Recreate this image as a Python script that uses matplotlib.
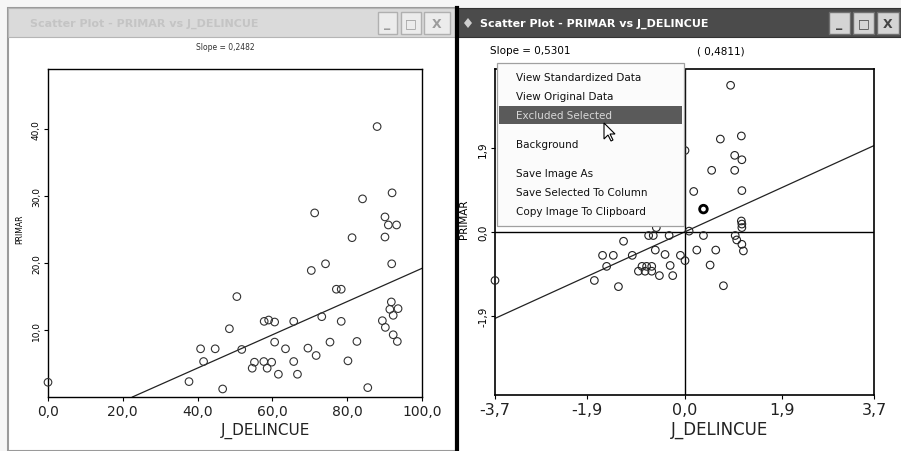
"""Duas janelas de dispersão: PRIMAR vs J_DELINCUE (original e padronizado)."""
import matplotlib
matplotlib.use("Agg")
import matplotlib.pyplot as plt
from matplotlib.patches import Rectangle, Polygon

W, H = 901, 452

# --- dados da janela esquerda (escala original) ---
delinq = [0.0, 37.7, 46.7, 85.5, 40.8, 44.7, 41.6, 48.5, 50.5, 51.8,
          57.8, 59.0, 60.6, 60.6, 54.6, 55.2, 57.7, 58.6, 59.8, 61.6,
          63.5, 65.7, 66.7, 65.7, 69.5, 71.7, 70.4, 74.2, 73.2, 75.4,
          77.1, 78.4, 78.4, 80.2, 82.6, 81.3, 90.1, 91.9, 91.8, 91.4,
          93.6, 92.3, 89.4, 90.2, 92.3, 93.4, 88.0, 84.1, 92.0, 71.3,
          90.1, 91.0, 93.2]
primar = [2.2, 2.3, 1.2, 1.4, 7.2, 7.2, 5.3, 10.2, 15.0, 7.1,
          11.3, 11.5, 11.2, 8.2, 4.3, 5.2, 5.3, 4.3, 5.2, 3.4,
          7.2, 5.3, 3.4, 11.3, 7.3, 6.2, 18.9, 19.9, 12.0, 8.2,
          16.1, 16.1, 11.3, 5.4, 8.3, 23.8, 23.9, 19.9, 14.2, 13.1,
          13.2, 12.2, 11.4, 10.4, 9.3, 8.3, 40.4, 29.6, 30.5, 27.5,
          26.9, 25.7, 25.7]
slope_orig = 0.2482
intercept_orig = -5.6

# --- dados da janela direita (padronizados) ---
delinq_std = [-3.70, -1.76, -1.29, -1.52, -1.60, -1.39, -1.02, -1.19, -0.70, -0.61,
              -0.30, -0.57, -0.38, -0.83, -0.74, -0.64, -0.90, -0.77, -0.64, -0.49,
              -0.28, -0.23, -0.08, 0.01, 0.37, 0.24, 0.61, 0.50, 0.76, 0.99,
              1.02, 1.12, 1.15, 1.11, 1.12, 0.09, 0.90, 0.70, 1.11, 0.98,
              1.12, 0.53, 0.98, 0.01, 0.18, 1.12, 1.12, -0.55]
primar_std = [-1.10, -1.10, -1.24, -0.78, -0.53, -0.53, -0.53, -0.21, -0.08, -0.08,
              -0.08, -0.41, -0.51, -0.78, -0.78, -0.78, -0.89, -0.89, -0.89, -0.99,
              -0.76, -0.99, -0.53, -0.65, -0.08, -0.41, -0.41, -0.75, -1.22, -0.08,
              -0.18, -0.28, -0.43, 0.25, 0.10, 0.02, 3.33, 2.11, 2.18, 1.74,
              1.64, 1.40, 1.40, 1.85, 0.92, 0.94, 0.18, 0.10]
sel_x = [0.37]
sel_y = [0.52]
slope_std = 0.5301

left_xticks = [0, 20, 40, 60, 80, 100]
left_xlabels = ["0,0", "20,0", "40,0", "60,0", "80,0", "100,0"]
left_yticks = [10, 20, 30, 40]
left_ylabels = ["10,0", "20,0", "30,0", "40,0"]
right_xticks = [-3.7, -1.9, 0.0, 1.9, 3.7]
right_xlabels = ["-3,7", "-1,9", "0,0", "1,9", "3,7"]
right_yticks = [-1.9, 0.0, 1.9]
right_ylabels = ["-1,9", "0,0", "1,9"]

menu_items = ["View Standardized Data", "View Original Data", "Excluded Selected",
              "Background", "Save Image As", "Save Selected To Column",
              "Copy Image To Clipboard"]
menu_y = [78, 97, 116, 145, 174, 193, 212]
menu_hl = 2

title = "Scatter Plot - PRIMAR vs J_DELINCUE"


def px_axes(fig, x0, y0, x1, y1, z):
    return fig.add_axes([x0 / W, 1 - y1 / H, (x1 - x0) / W, (y1 - y0) / H], zorder=z)


def rect(ax, x0, y0, x1, y1, **kw):
    ax.add_patch(Rectangle((x0, y0), x1 - x0, y1 - y0, **kw))


fig = plt.figure(figsize=(W / 100, H / 100), dpi=100, facecolor="#f6f6f6")

# fundo: molduras das janelas
bg = px_axes(fig, 0, 0, W, H, 0)
bg.set_xlim(0, W)
bg.set_ylim(H, 0)
bg.axis("off")

rect(bg, 8, 9, 456, 452, facecolor="white", edgecolor="#9a9a9a", lw=1.5)
rect(bg, 8, 9, 456, 38, facecolor="#dadada", edgecolor="#b5b5b5", lw=0.8)
bg.text(30, 24, title, color="#c4c4c4", fontsize=8, fontweight="bold", va="center")
for x0, x1, sym in [(378, 397, "_"), (401, 421, "□"), (424, 450, "X")]:
    rect(bg, x0, 13, x1, 35, facecolor="#ececec", edgecolor="#b0b0b0", lw=1)
    bg.text((x0 + x1) / 2, 24, sym, color="#9c9c9c", fontsize=9, fontweight="bold",
            ha="center", va="center")
bg.text(225, 48, "Slope = 0,2482", fontsize=5.5, color="#333333", ha="center", va="center")
bg.text(20, 229, "PRIMAR", fontsize=5.5, rotation=90, ha="center", va="center")
bg.text(265, 431, "J_DELINCUE", fontsize=11, ha="center", va="center", color="#222222")

rect(bg, 455, 9, 901, 452, facecolor="white", edgecolor="none")
rect(bg, 455, 9, 901, 38, facecolor="#4b4b4b", edgecolor="#333333", lw=0.8)
bg.plot([457, 457], [9, 452], color="black", lw=3)
bg.add_patch(Polygon([(468, 19), (472, 24), (468, 29), (464, 24)], closed=True,
                     facecolor="#cfcfcf", edgecolor="none"))
bg.text(480, 24, title, color="white", fontsize=8, fontweight="bold", va="center")
for x0, x1, sym in [(829, 850, "_"), (853, 874, "□"), (877, 899, "X")]:
    rect(bg, x0, 13, x1, 35, facecolor="#d4d4d4", edgecolor="#707070", lw=1)
    bg.text((x0 + x1) / 2, 24, sym, color="#444444", fontsize=9, fontweight="bold",
            ha="center", va="center")
bg.text(490, 51, "Slope = 0,5301", fontsize=7.5, ha="left", va="center")
bg.text(697, 51, "( 0,4811)", fontsize=7.5, ha="left", va="center")
bg.text(464, 219, "PRIMAR", fontsize=7.5, rotation=90, ha="center", va="center")
bg.text(720, 430, "J_DELINCUE", fontsize=12, ha="center", va="center", color="#222222")

# gráfico esquerdo
ax1 = px_axes(fig, 48, 70, 422, 398, 5)
ax1.scatter(delinq, primar, s=30, facecolors="none", edgecolors="#333333",
            linewidths=0.8, clip_on=False, zorder=3)
ax1.axline((0, intercept_orig), slope=slope_orig, color="#222222", lw=0.9)
ax1.set_xlim(0, 100)
ax1.set_ylim(0, 49)
ax1.set_xticks(left_xticks, left_xlabels, fontsize=10, color="#222222")
ax1.set_yticks(left_yticks, left_ylabels, fontsize=6.5, rotation=90, va="center")
ax1.tick_params(length=3, width=0.8, pad=2)
for sp in ax1.spines.values():
    sp.set_linewidth(1)

# gráfico direito (padronizado)
ax2 = px_axes(fig, 495, 70, 874, 396, 5)
ax2.scatter(delinq_std, primar_std, s=30, facecolors="none", edgecolors="#222222",
            linewidths=0.8, clip_on=False, zorder=3)
ax2.scatter(sel_x, sel_y, s=30, facecolors="none", edgecolors="black",
            linewidths=2, zorder=4)
ax2.axline((0, 0), slope=slope_std, color="#222222", lw=0.9)
ax2.axhline(0, color="black", lw=1)
ax2.axvline(0, color="black", lw=1)
ax2.set_xlim(-3.7, 3.7)
ax2.set_ylim(-3.7, 3.7)
ax2.set_xticks(right_xticks, right_xlabels, fontsize=11.5, color="#222222")
ax2.set_yticks(right_yticks, right_ylabels, fontsize=7.5, rotation=90, va="center")
ax2.tick_params(length=3, width=0.8, pad=2)
for sp in ax2.spines.values():
    sp.set_linewidth(1.2)

# menu de contexto por cima
fg = px_axes(fig, 0, 0, W, H, 10)
fg.set_xlim(0, W)
fg.set_ylim(H, 0)
fg.axis("off")
fg.patch.set_alpha(0)
rect(fg, 497, 64, 684, 227, facecolor="#fbfbfb", edgecolor="#a0a0a0", lw=0.9)
rect(fg, 499, 107, 682, 125, facecolor="#5a5a5a", edgecolor="none")
for i, (item, y) in enumerate(zip(menu_items, menu_y)):
    fg.text(516, y, item, fontsize=7.5, va="center",
            color="#d8d8d8" if i == menu_hl else "#111111")
cursor = [(0, 0), (0, 16), (4, 12), (7, 18), (9, 17), (6, 11), (11, 11)]
fg.add_patch(Polygon([(604 + cx, 124 + cy) for cx, cy in cursor], closed=True,
                     facecolor="white", edgecolor="black", lw=0.8))

fig.savefig("out.png", dpi=100, facecolor=fig.get_facecolor())
